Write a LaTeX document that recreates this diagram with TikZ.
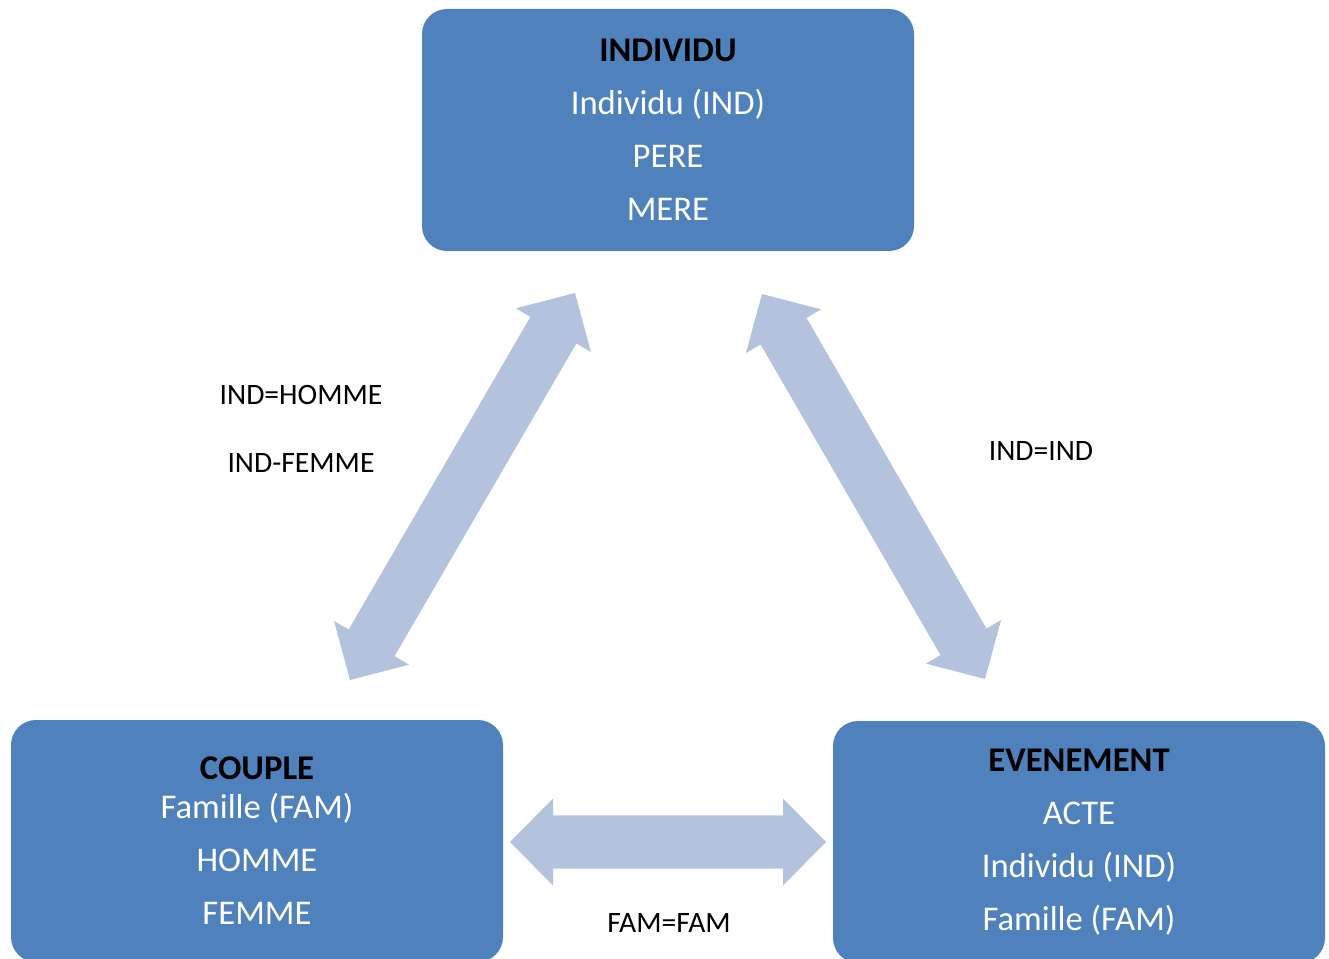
\documentclass[tikz,border=0pt]{standalone}
\usepackage{fontspec}
\setmainfont{Carlito}
\usetikzlibrary{calc}
\definecolor{boxblue}{HTML}{4F81BD}
\definecolor{arrowblue}{HTML}{B3C3DE}
\newcommand\blockarrow[2]{%
  \coordinate (ba1) at ($(#1)!32.25pt!(#2)$);
  \coordinate (ba2) at ($(#2)!32.25pt!(#1)$);
  \fill[arrowfill] (#1) -- ($(ba1)!32.6pt!90:(#2)$) -- ($(ba1)!19.9pt!90:(#2)$)
    -- ($(ba2)!19.9pt!-90:(#1)$) -- ($(ba2)!32.6pt!-90:(#1)$) -- (#2)
    -- ($(ba2)!32.6pt!90:(#1)$) -- ($(ba2)!19.9pt!90:(#1)$)
    -- ($(ba1)!19.9pt!-90:(#2)$) -- ($(ba1)!32.6pt!-90:(#2)$) -- cycle;
}
\begin{document}
\begin{tikzpicture}[x=0.75pt,y=-0.75pt,
  entity/.style={fill=boxblue, rounded corners=18.75pt, minimum width=369pt,
    minimum height=181.5pt, inner sep=0pt, text=white, align=center,
    font=\fontsize{26}{39.75}\selectfont},
  arrowfill/.style={fill=arrowblue},
  lbl/.style={font=\fontsize{22.2}{26}\selectfont, text=black, inner sep=0pt}]
\useasboundingbox (0,0) rectangle (1329,959);

% arrows
\coordinate (h1) at (510,842);
\coordinate (h2) at (826,842);
\coordinate (l1) at (350,680);
\coordinate (l2) at (575,293);
\coordinate (r1) at (762,294);
\coordinate (r2) at (985,679);
\blockarrow{l1}{l2}
\blockarrow{r1}{r2}
\blockarrow{h1}{h2}

% boxes
\node[entity] (ind) at (668,130) {{\bfseries\color{black}INDIVIDU}\\Individu (IND)\\PERE\\MERE};
\node[entity] (cpl) at (257,841) {{\bfseries\color{black}COUPLE}\\[-10.5pt]Famille (FAM)\\HOMME\\FEMME};
\node[entity] (evt) at (1079,842) {{\bfseries\color{black}EVENEMENT}\\ACTE\\Individu (IND)\\Famille (FAM)};

% labels
\node[lbl] (t1) at (301,395) {IND=HOMME};
\node[lbl] (t2) at (301,463) {IND-FEMME};
\node[lbl] (t3) at (1041,451) {IND=IND};
\node[lbl] (t4) at (669,923) {FAM=FAM};
\end{tikzpicture}
\end{document}
